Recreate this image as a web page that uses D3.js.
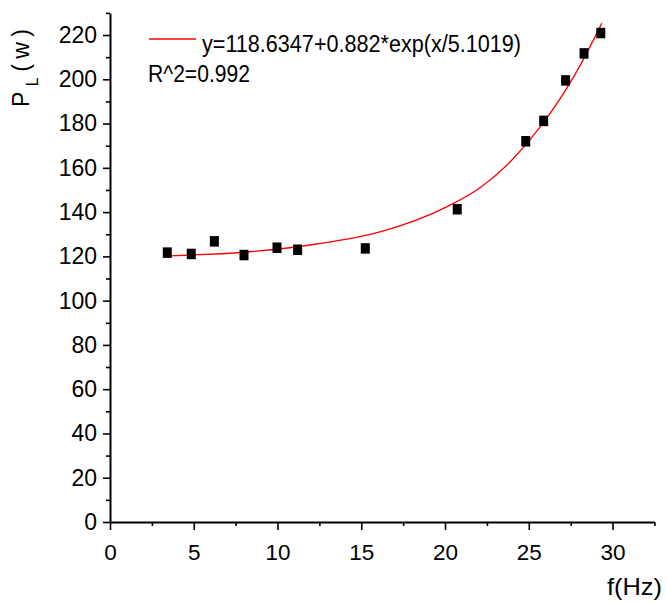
<!DOCTYPE html>
<html>
<head>
<meta charset="utf-8">
<script src="https://cdn.jsdelivr.net/npm/d3@7"></script>
<style>
  html, body { margin: 0; padding: 0; background: #fff; }
  svg { display: block; font-family: "Liberation Sans", Arial, sans-serif; }
</style>
</head>
<body>
<svg id="chart" width="666" height="603"></svg>
<script>
// ---- data ----
const freq  = [3.42, 4.85, 6.23, 8.0, 9.97, 11.2, 15.24, 20.73, 24.82, 25.89, 27.2, 28.3, 29.3];
const power = [121.7, 121.1, 126.8, 120.6, 123.9, 123.0, 123.6, 141.3, 172.0, 181.2, 199.5, 211.7, 220.9];

// fitted curve
const fitX = [3.48, 8.36, 12.34, 16.12, 20.1, 22.09, 24.08, 25.67, 27.86, 29.36];
const fitY = [120.2, 122.1, 125.6, 131.1, 142.4, 151.0, 164.2, 178.4, 203.5, 225.3];

const xMajorTicks = [0, 5, 10, 15, 20, 25, 30];
const xMinorTicks = [2.5, 7.5, 12.5, 17.5, 22.5, 27.5, 32.5];
const yMajorTicks = [0, 20, 40, 60, 80, 100, 120, 140, 160, 180, 200, 220];
const yMinorTicks = [10, 30, 50, 70, 90, 110, 130, 150, 170, 190, 210, 230];

const legendText = "y=118.6347+0.882*exp(x/5.1019)";
const r2Text = "R^2=0.992";
const xLabel = "f(Hz)";

// ---- layout ----
const svg = d3.select("#chart");
const x = d3.scaleLinear().domain([0, 32.5]).range([110, 654.4]);
const y = d3.scaleLinear().domain([0, 230]).range([522, 12.9]);

// minor ticks
svg.append("g").attr("transform", "translate(0,522)")
  .call(d3.axisBottom(x).tickValues(xMinorTicks).tickSize(4).tickSizeOuter(0).tickFormat(""))
  .call(g => g.select(".domain").remove());
svg.append("g").attr("transform", "translate(110,0)")
  .call(d3.axisLeft(y).tickValues(yMinorTicks).tickSize(4).tickSizeOuter(0).tickFormat(""))
  .call(g => g.select(".domain").remove());

// major axes
const gx = svg.append("g").attr("transform", "translate(0,522)")
  .call(d3.axisBottom(x).tickValues(xMajorTicks).tickSize(8).tickSizeOuter(0).tickPadding(14).tickFormat(d3.format("d")));
const gy = svg.append("g").attr("transform", "translate(110,0)")
  .call(d3.axisLeft(y).tickValues(yMajorTicks).tickSize(7).tickSizeOuter(0).tickPadding(6).tickFormat(d3.format("d")));

svg.selectAll(".tick line").attr("stroke", "#000").attr("stroke-width", 1.6);
svg.selectAll(".domain").attr("stroke", "#000").attr("stroke-width", 2);
gx.selectAll("text").attr("font-size", 22.5).attr("fill", "#000").attr("font-family", "Liberation Sans, Arial, sans-serif");
gy.selectAll("text").attr("font-size", 23).attr("fill", "#000").attr("font-family", "Liberation Sans, Arial, sans-serif");

// fitted curve
const line = d3.line().x(d => x(d[0])).y(d => y(d[1])).curve(d3.curveMonotoneX);
svg.append("path")
  .datum(fitX.map((v, i) => [v, fitY[i]]))
  .attr("d", line)
  .attr("fill", "none")
  .attr("stroke", "#ff0000")
  .attr("stroke-width", 1.3);

// data markers
svg.append("g").selectAll("rect")
  .data(freq.map((v, i) => [v, power[i]]))
  .join("rect")
  .attr("x", d => x(d[0]) - 4.5)
  .attr("y", d => y(d[1]) - 5.25)
  .attr("width", 9)
  .attr("height", 10.5)
  .attr("fill", "#000");

// legend
svg.append("line")
  .attr("x1", 149).attr("x2", 196).attr("y1", 39).attr("y2", 39)
  .attr("stroke", "#ff0000").attr("stroke-width", 1.3);
svg.append("text")
  .attr("x", 202).attr("y", 52)
  .attr("font-size", 23)
  .attr("textLength", 319).attr("lengthAdjust", "spacingAndGlyphs")
  .text(legendText);
svg.append("text")
  .attr("x", 148).attr("y", 81.5)
  .attr("font-size", 23)
  .attr("textLength", 102).attr("lengthAdjust", "spacingAndGlyphs")
  .text(r2Text);

// x axis label
svg.append("text")
  .attr("x", 607).attr("y", 595)
  .attr("font-size", 24)
  .attr("textLength", 55).attr("lengthAdjust", "spacingAndGlyphs")
  .text(xLabel);

// y axis label (rotated)
const yl = svg.append("text")
  .attr("transform", "translate(28.5,107) rotate(-90)")
  .attr("font-size", 23)
  .attr("textLength", 78).attr("lengthAdjust", "spacing");
yl.append("tspan").text("P");
yl.append("tspan").attr("font-size", 16).attr("dy", 9).text("L");
yl.append("tspan").attr("dy", -9).text("(w)");
</script>
</body>
</html>
